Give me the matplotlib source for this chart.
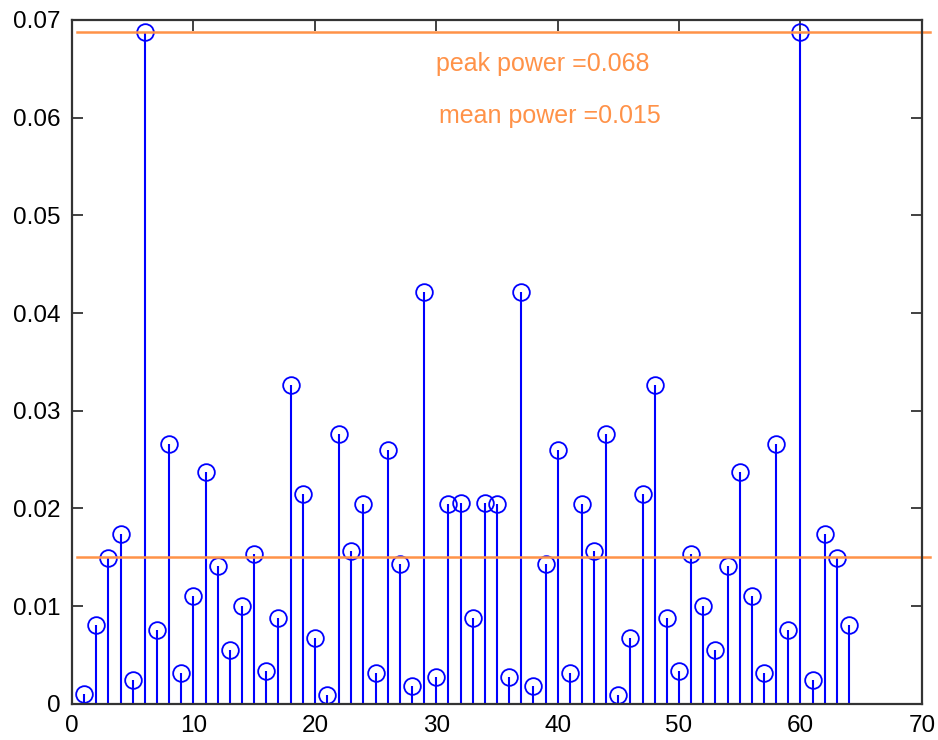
import numpy as np
import matplotlib
matplotlib.use("Agg")
import matplotlib.pyplot as plt

plt.rcParams['font.family'] = ['Liberation Sans', 'DejaVu Sans']

# power spectrum bins 1..33 (remaining bins mirror these: p[k] = p[66-k])
half_power = [0.0010, 0.0081, 0.0149, 0.0174, 0.0024, 0.0688, 0.0076, 0.0266,
              0.0031, 0.0110, 0.0237, 0.0141, 0.0055, 0.0100, 0.0153, 0.0034,
              0.0088, 0.0326, 0.0215, 0.0067, 0.0009, 0.0276, 0.0156, 0.0204,
              0.0031, 0.0260, 0.0143, 0.0018, 0.0422, 0.0027, 0.0204, 0.0206,
              0.0088]
power = np.array(half_power + half_power[1:32][::-1])
bins = np.arange(1, len(power) + 1)

peak_power = power.max()
mean_power = 0.015

orange = '#ff9248'
blue = '#0000ff'

fig = plt.figure(figsize=(9.38, 7.4), dpi=100)
ax = fig.add_axes([0.0768, 0.049, 0.906, 0.924])

markerline, stemlines, baseline = ax.stem(bins, power, basefmt=' ')
plt.setp(stemlines, color=blue, linewidth=1.5)
plt.setp(markerline, color=blue, marker='o', markersize=12,
         markerfacecolor='none', markeredgewidth=1.3)

ax.plot([0.4, 70.7], [peak_power, peak_power], color=orange, lw=1.8, clip_on=False)
ax.plot([0.4, 70.7], [mean_power, mean_power], color=orange, lw=1.8, clip_on=False)

ax.text(30.0, 0.0655, 'peak power =%.3f' % (np.floor(peak_power * 1000) / 1000),
        color=orange, fontsize=18, va='center', ha='left')
ax.text(30.2, 0.0602, 'mean power =%.3f' % mean_power,
        color=orange, fontsize=18, va='center', ha='left')

ax.set_xlim(0, 70)
ax.set_ylim(0, 0.07)
ax.set_xticks(np.arange(0, 71, 10))
ax.set_yticks(np.arange(0, 0.071, 0.01))
ax.set_yticklabels(['0', '0.01', '0.02', '0.03', '0.04', '0.05', '0.06', '0.07'])
ax.tick_params(direction='in', length=8, width=1.3, top=True, right=True,
               labelsize=17.5, pad=8, color='#333333')
for s in ax.spines.values():
    s.set_linewidth(1.6)
    s.set_color('#333333')

fig.savefig('out.png', dpi=100)
